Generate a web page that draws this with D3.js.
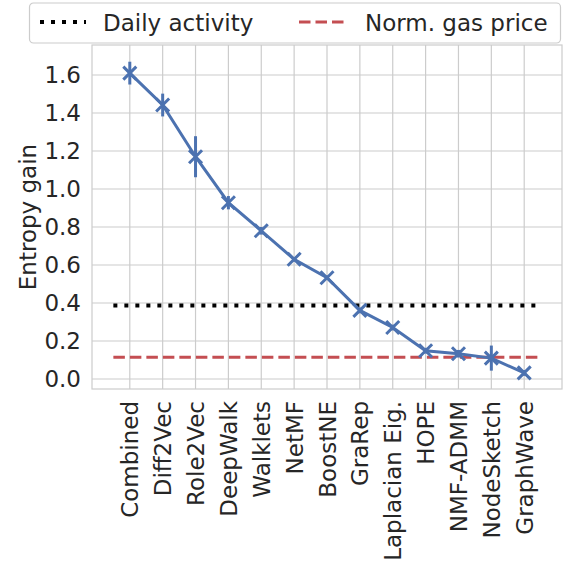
<!DOCTYPE html>
<html>
<head>
<meta charset="utf-8">
<script src="https://cdn.jsdelivr.net/npm/d3@7"></script>
<style>
  body { margin: 0; background: #fff; }
  svg, svg text { font-family: "DejaVu Sans", sans-serif; }
</style>
</head>
<body>
<div id="grafico"></div>
<script>
// datos
var metodos = ["Combined", "Diff2Vec", "Role2Vec", "DeepWalk", "Walklets", "NetMF", "BoostNE",
  "GraRep", "Laplacian Eig.", "HOPE", "NMF-ADMM", "NodeSketch", "GraphWave"];
var ganancia = [1.61, 1.442, 1.17, 0.928, 0.78, 0.63, 0.533, 0.361, 0.271, 0.149, 0.133, 0.11, 0.032];
var errores = [0.06, 0.06, 0.108, 0.035, 0.02, 0.012, 0.012, 0.015, 0.015, 0.015, 0.02, 0.066, 0.015];
var actividadDiaria = 0.387;
var precioGas = 0.114;
var yTicks = [0, 0.2, 0.4, 0.6, 0.8, 1.0, 1.2, 1.4, 1.6];
var leyenda = ["Daily activity", "Norm. gas price"];

var W = 571, H = 561;
var margin = {top: 45, right: 9, bottom: 172, left: 92};
var width = W - margin.left - margin.right,
    height = H - margin.top - margin.bottom;

var azul = "#4C72B0", rojo = "#C44E52", gris = "#cccccc", texto = "#262626";
var fuente = "DejaVu Sans";
var tam = "23px";

var svg = d3.select("#grafico")
  .append("svg")
  .attr("width", W)
  .attr("height", H);

var g = svg.append("g")
  .attr("transform", "translate(" + margin.left + "," + margin.top + ")");

// escalas
var x = d3.scaleLinear()
  .domain([-1.15, metodos.length - 1 + 1.15])
  .range([0, width]);

var y = d3.scaleLinear()
  .domain([-0.0526, 1.758])
  .range([height, 0]);

// grid
g.append("g")
  .selectAll("line")
  .data(metodos)
  .join("line")
  .attr("x1", (d, i) => x(i))
  .attr("x2", (d, i) => x(i))
  .attr("y1", 0)
  .attr("y2", height)
  .attr("stroke", gris)
  .attr("stroke-width", 1.2);

g.append("g")
  .selectAll("line")
  .data(yTicks)
  .join("line")
  .attr("x1", 0)
  .attr("x2", width)
  .attr("y1", d => y(d))
  .attr("y2", d => y(d))
  .attr("stroke", gris)
  .attr("stroke-width", 1.2);

// marco
g.append("rect")
  .attr("width", width)
  .attr("height", height)
  .attr("fill", "none")
  .attr("stroke", gris)
  .attr("stroke-width", 1.2);

// eje y
var ejeY = g.append("g")
  .call(d3.axisLeft(y).tickValues(yTicks).tickFormat(d3.format(".1f")).tickSize(0).tickPadding(11));
ejeY.attr("font-family", fuente);
ejeY.select(".domain").remove();
ejeY.selectAll("text")
  .style("font-family", fuente)
  .style("font-size", tam)
  .attr("fill", texto);

// eje x
var ejeX = g.append("g")
  .attr("transform", "translate(0," + height + ")")
  .call(d3.axisBottom(x).tickValues(d3.range(metodos.length)).tickFormat(i => metodos[i]).tickSize(0));
ejeX.attr("font-family", fuente);
ejeX.select(".domain").remove();
ejeX.selectAll("text")
  .style("font-family", fuente)
  .style("font-size", tam)
  .attr("fill", texto)
  .attr("text-anchor", "end")
  .attr("dy", null)
  .attr("dominant-baseline", "central")
  .attr("transform", "translate(0,12) rotate(-90)")
  .attr("y", 0)
  .attr("x", 0);

// etiqueta del eje y
svg.append("text")
  .attr("transform", "translate(28," + (margin.top + height / 2) + ") rotate(-90)")
  .attr("text-anchor", "middle")
  .attr("dominant-baseline", "central")
  .style("font-size", tam)
  .attr("fill", texto)
  .text("Entropy gain");

// lineas de referencia
g.append("line")
  .attr("x1", x(-0.5)).attr("x2", x(metodos.length - 0.5))
  .attr("y1", y(actividadDiaria)).attr("y2", y(actividadDiaria))
  .attr("stroke", "black")
  .attr("stroke-width", 4)
  .attr("stroke-dasharray", "4,7");

g.append("line")
  .attr("x1", x(-0.5)).attr("x2", x(metodos.length - 0.5))
  .attr("y1", y(precioGas)).attr("y2", y(precioGas))
  .attr("stroke", rojo)
  .attr("stroke-width", 3)
  .attr("stroke-dasharray", "11.5,5");

// barras de error
g.append("g")
  .selectAll("line")
  .data(ganancia)
  .join("line")
  .attr("x1", (d, i) => x(i))
  .attr("x2", (d, i) => x(i))
  .attr("y1", (d, i) => y(d - errores[i]))
  .attr("y2", (d, i) => y(d + errores[i]))
  .attr("stroke", azul)
  .attr("stroke-width", 3);

// linea principal
g.append("path")
  .datum(ganancia)
  .attr("fill", "none")
  .attr("stroke", azul)
  .attr("stroke-width", 3)
  .attr("d", d3.line().x((d, i) => x(i)).y(d => y(d)));

// marcadores x
var s = 6.5;
g.append("g")
  .selectAll("path")
  .data(ganancia)
  .join("path")
  .attr("d", (d, i) => {
    var cx = x(i), cy = y(d);
    return "M" + (cx - s) + "," + (cy - s) + "L" + (cx + s) + "," + (cy + s) +
      "M" + (cx - s) + "," + (cy + s) + "L" + (cx + s) + "," + (cy - s);
  })
  .attr("stroke", azul)
  .attr("stroke-width", 3)
  .attr("fill", "none");

// leyenda
var ley = svg.append("g");
ley.append("rect")
  .attr("x", 29.5).attr("y", 3)
  .attr("width", 531).attr("height", 40)
  .attr("rx", 4)
  .attr("fill", "white")
  .attr("stroke", gris)
  .attr("stroke-width", 1.2);

ley.append("line")
  .attr("x1", 40).attr("x2", 86)
  .attr("y1", 22).attr("y2", 22)
  .attr("stroke", "black")
  .attr("stroke-width", 4)
  .attr("stroke-dasharray", "4,7");
ley.append("text")
  .attr("x", 103).attr("y", 30.5)
  .style("font-size", tam)
  .attr("fill", texto)
  .text(leyenda[0]);

ley.append("line")
  .attr("x1", 299).attr("x2", 345)
  .attr("y1", 22).attr("y2", 22)
  .attr("stroke", rojo)
  .attr("stroke-width", 3)
  .attr("stroke-dasharray", "11.5,5");
ley.append("text")
  .attr("x", 365).attr("y", 30.5)
  .style("font-size", tam)
  .attr("fill", texto)
  .text(leyenda[1]);
</script>
</body>
</html>
